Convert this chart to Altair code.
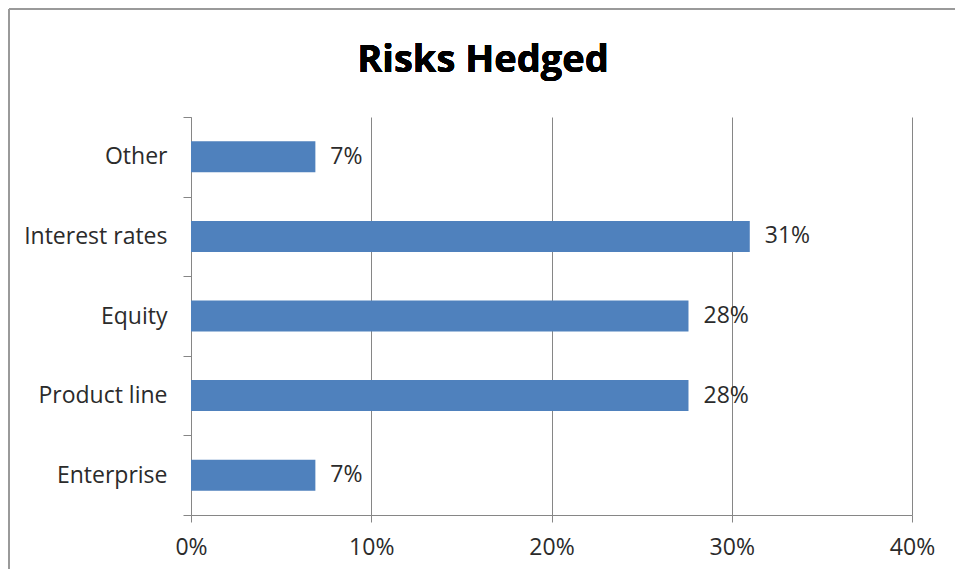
import altair as alt
import pandas as pd

categories = ["Other", "Interest rates", "Equity", "Product line", "Enterprise"]
values = [0.069, 0.31, 0.276, 0.276, 0.069]
title_text = "Risks Hedged"

df = pd.DataFrame({"category": categories, "value": values})

FONT = "Open Sans"
FS = 23
W, H = 721, 398
PL, PT = 183, 109
TXT = "#2b2b2b"
GRID = "#868686"

y_enc = alt.Y("category:N", sort=categories, title=None,
              scale=alt.Scale(paddingInner=0, paddingOuter=0),
              axis=alt.Axis(tickBand="extent", grid=False, labelFontSize=FS,
                            labelFont=FONT, labelColor=TXT, labelPadding=16,
                            tickSize=8, tickColor=GRID, domainColor=GRID))
x_enc = alt.X("value:Q", title=None,
              scale=alt.Scale(domain=[0, 0.4], nice=False),
              axis=alt.Axis(format=".0%", values=[0, 0.1, 0.2, 0.3, 0.4],
                            grid=True, gridColor=GRID, gridWidth=1, labelFlush=False,
                            tickSize=7, tickColor=GRID, domainColor=GRID,
                            labelFontSize=FS, labelFont=FONT, labelColor=TXT,
                            labelPadding=14))

bars = alt.Chart(df).mark_bar(size=31, color="#4F81BD").encode(x=x_enc, y=y_enc)

labels = alt.Chart(df).mark_text(align="left", baseline="middle", dx=15,
                                 fontSize=FS, font=FONT, color=TXT).encode(
    x=alt.X("value:Q"), y=alt.Y("category:N", sort=categories),
    text=alt.Text("value:Q", format=".0%"))

title = alt.Chart(df).mark_text(text=title_text, fontSize=38, fontWeight="bold",
                                font=FONT, color="#000000", align="center",
                                baseline="alphabetic").encode(
    x=alt.value(292), y=alt.value(-45))

border_top = alt.Chart(df).mark_rule(color="#9a9a9a", strokeWidth=2).encode(
    x=alt.value(-PL + 1), x2=alt.value(W + 60), y=alt.value(-PT + 1))
border_left = alt.Chart(df).mark_rule(color="#9a9a9a", strokeWidth=2).encode(
    x=alt.value(-PL + 1), y=alt.value(-PT + 1), y2=alt.value(H + 60))

chart = alt.layer(border_top, border_left, bars, labels, title).properties(
    width=W, height=H,
    background="white",
    autosize=alt.AutoSizeParams(type="none"),
    padding={"left": PL, "top": PT, "right": 43, "bottom": 54},
).configure_view(stroke="transparent", strokeWidth=0)

chart.save("out.html", embed_options={"renderer": "svg", "actions": False})
